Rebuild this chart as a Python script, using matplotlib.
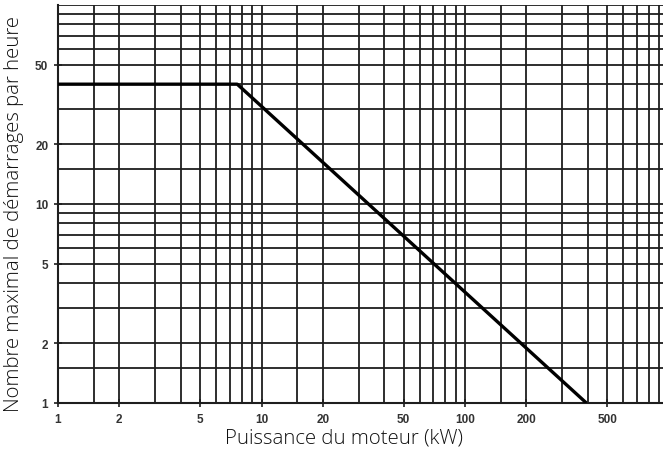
import matplotlib
matplotlib.use("Agg")
import matplotlib.pyplot as plt
import numpy as np

# Data
power_kw = [1, 7.6, 395]
max_starts = [40, 40, 1]

x_grid = [1, 1.5, 2, 3, 4, 5, 6, 7, 8, 9,
          10, 15, 20, 30, 40, 50, 60, 70, 80, 90,
          100, 150, 200, 300, 400, 500, 600, 700, 800, 900]
y_grid = [1, 1.5, 2, 3, 4, 5, 6, 7, 8, 9,
          10, 15, 20, 30, 40, 50, 60, 70, 80, 90, 100]
x_ticks = [1, 2, 5, 10, 20, 50, 100, 200, 500]
y_ticks = [1, 2, 5, 10, 20, 50]

W, H = 663, 456
fig = plt.figure(figsize=(W / 100, H / 100), dpi=100)
left, right = 58, 663
bottom, top = 404, 6
ax = fig.add_axes([left / W, (H - bottom) / H, (right - left) / W, (bottom - top) / H])
ax.set_xscale("log")
ax.set_yscale("log")
xmax = 10 ** ((right - left) / 203.5)
ax.set_xlim(1, xmax)
ax.set_ylim(1, 100)

gc = "#1e1e1e"
for xv in x_grid:
    ax.axvline(xv, color=gc, lw=1.3, zorder=1)
for yv in y_grid:
    ax.axhline(yv, color=gc, lw=1.3, zorder=1)

ax.plot(power_kw, max_starts, color="black", lw=2.4, zorder=3, solid_capstyle="butt")

ax.set_xticks(x_ticks)
ax.set_xticklabels([str(v) for v in x_ticks])
ax.set_yticks(y_ticks)
ax.set_yticklabels([str(v) for v in y_ticks])
ax.xaxis.set_minor_locator(matplotlib.ticker.NullLocator())
ax.yaxis.set_minor_locator(matplotlib.ticker.NullLocator())
ax.tick_params(axis="both", direction="inout", length=6, width=1.2, color=gc,
               labelsize=8.5, labelcolor="#333333", pad=4)
for lab in ax.get_xticklabels() + ax.get_yticklabels():
    lab.set_fontweight("bold")
    lab.set_family("Liberation Sans")

for s in ["top", "right"]:
    ax.spines[s].set_visible(False)
for s in ["left", "bottom"]:
    ax.spines[s].set_color(gc)
    ax.spines[s].set_linewidth(1.5)

fig.text(344 / W, 1 - 439 / H, "Puissance du moteur (kW)", ha="center", va="center",
         fontsize=14.7, family="Open Sans", fontweight="light", color="#111111")
fig.text(14 / W, 1 - 214 / H, "Nombre maximal de démarrages par heure", ha="center", va="center",
         rotation=90, fontsize=14.7, family="Open Sans", fontweight="light", color="#111111")

fig.savefig("out.png", dpi=100)
